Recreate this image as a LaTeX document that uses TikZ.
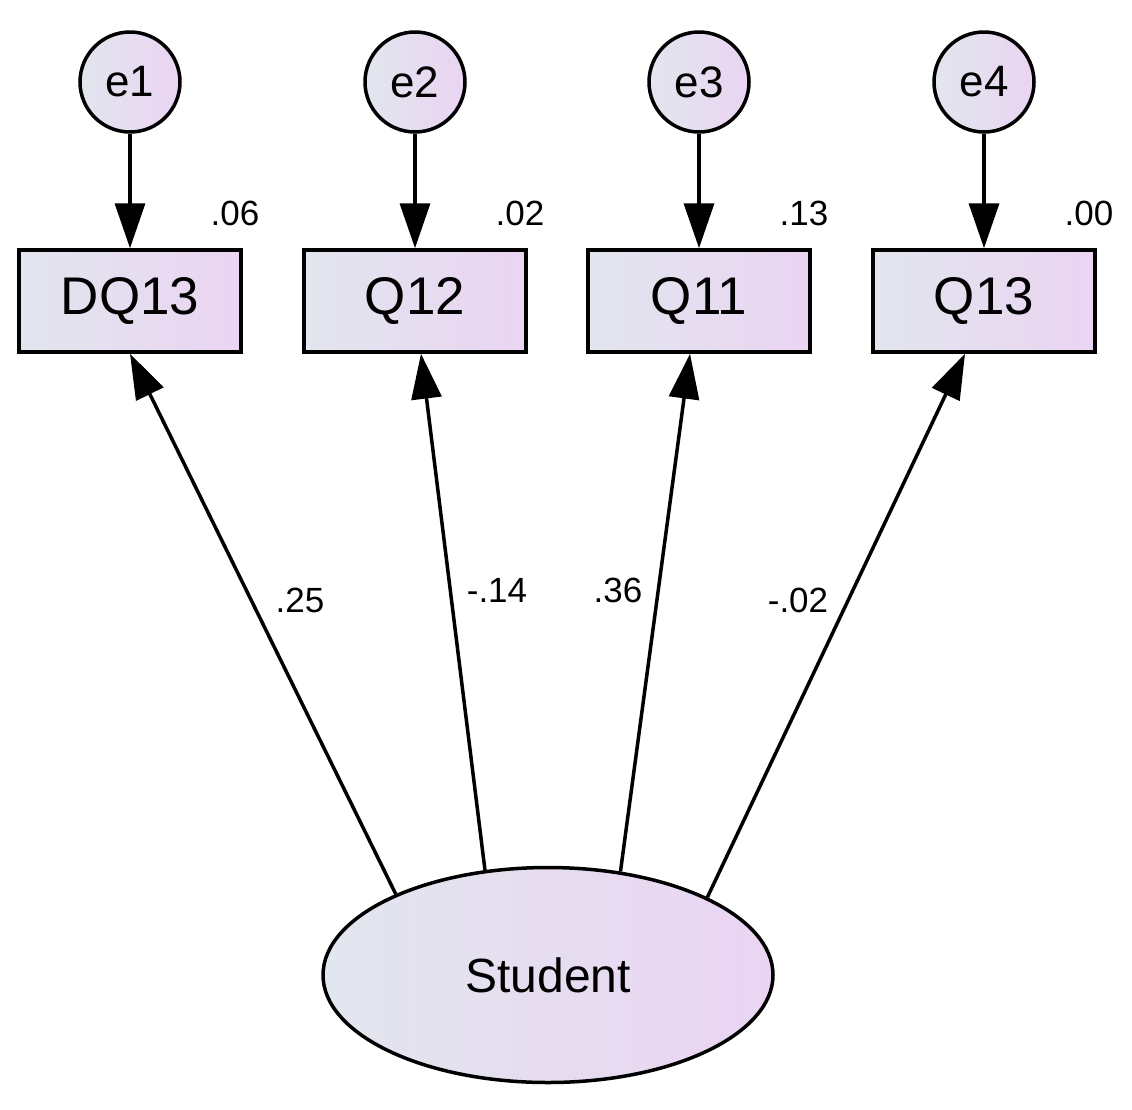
\documentclass[tikz,border=0pt]{standalone}
\usepackage{fontspec}
\setmainfont{Liberation Sans}
\usetikzlibrary{shapes.geometric,arrows.meta}
\definecolor{gl}{RGB}{226,230,238}
\definecolor{gr}{RGB}{234,212,242}
\begin{document}
\begin{tikzpicture}[x=1pt,y=-1pt,
  grad/.style={left color=gl, right color=gr, draw=black, line width=3.5pt},
  err/.style={grad, circle, minimum size=100pt, inner sep=0pt, font=\fontsize{44}{44}\selectfont},
  obs/.style={grad, rectangle, minimum width=222pt, minimum height=102pt, inner sep=0pt, font=\fontsize{53}{53}\selectfont},
  lat/.style={grad, ellipse, minimum width=450pt, minimum height=215pt, inner sep=0pt, font=\fontsize{48}{48}\selectfont},
  lbl/.style={font=\fontsize{35}{35}\selectfont, inner sep=0pt},
  arr/.style={line width=3.5pt, -{Triangle[length=45pt,width=30pt]}}]
\useasboundingbox (0,0) rectangle (1132,1109);
\foreach \i/\x/\n/\t/\r in {1/130/DQ13/e1/.06, 2/415/Q12/e2/.02, 3/699/Q11/e3/.13, 4/984/Q13/e4/.00}{
  \node[err] (e\i) at (\x,82) {\t};
  \node[obs] (b\i) at (\x,301) {\n};
  \node[lbl] (r\i) at (\x+105,213) {\r};
  \draw[arr] (e\i) -- (b\i);
}
\node[lat] (s) at (548,975) {Student};
\draw[arr] (s.152.9) -- (b1.south);
\draw[arr] (s.121) -- ([xshift=6pt]b2.south);
\draw[arr] (s.55.6) -- ([xshift=-9pt]b3.south);
\draw[arr] (s.26.6) -- ([xshift=-19pt]b4.south);
\node[lbl] (l1) at (300,600) {.25};
\node[lbl] (l2) at (497,590) {-.14};
\node[lbl] (l3) at (618,590) {.36};
\node[lbl] (l4) at (798,600) {-.02};
\end{tikzpicture}
\end{document}
